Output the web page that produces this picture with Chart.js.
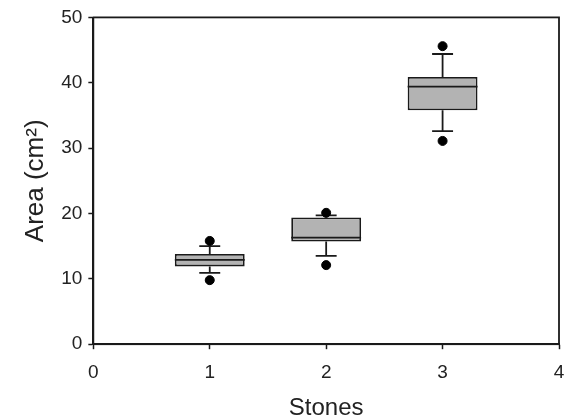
<!DOCTYPE html>
<html>
<head>
<meta charset="utf-8">
<script src="https://cdn.jsdelivr.net/npm/chart.js@4/dist/chart.umd.min.js"></script>
<style>
html, body { margin: 0; padding: 0; background: #fff; }
#wrap { width: 566px; height: 420px; }
</style>
</head>
<body>
<div id="wrap"><canvas id="myChart"></canvas></div>
<script>
// values
var stones = [1, 2, 3];
var q1 = [11.9, 15.7, 35.8];
var median = [12.9, 16.3, 39.4];
var q3 = [13.8, 19.4, 40.9];
var whiskerLow = [10.9, 13.5, 32.6];
var whiskerHigh = [15.0, 19.7, 44.4];
var outlierLow = [9.8, 12.1, 31.1];
var outlierHigh = [15.8, 20.1, 45.6];
var xTicks = [0, 1, 2, 3, 4];
var yTicks = [0, 10, 20, 30, 40, 50];

var boxHalf = 0.3, capHalf = 0.09;
var ink = '#1a1a1a';

var boxes = [], medLines = [], whiskers = [], caps = [], dots = [];
stones.forEach(function (s, i) {
    boxes.push({ x: s, y: [q1[i], q3[i]] });
    medLines.push({ x: s - boxHalf, y: median[i] }, { x: s + boxHalf, y: median[i] }, { x: s, y: null });
    whiskers.push({ x: s, y: q3[i] }, { x: s, y: whiskerHigh[i] }, { x: s, y: null });
    whiskers.push({ x: s, y: q1[i] }, { x: s, y: whiskerLow[i] }, { x: s, y: null });
    caps.push({ x: s - capHalf, y: whiskerHigh[i] }, { x: s + capHalf, y: whiskerHigh[i] }, { x: s, y: null });
    caps.push({ x: s - capHalf, y: whiskerLow[i] }, { x: s + capHalf, y: whiskerLow[i] }, { x: s, y: null });
    dots.push({ x: s, y: outlierLow[i] }, { x: s, y: outlierHigh[i] });
});

function segLine(data) {
    return {
        type: 'line', data: data, borderColor: ink, borderWidth: 1.8,
        pointRadius: 0, spanGaps: false, fill: false, order: 1
    };
}

var frame = {
    id: 'frame',
    afterDraw: function (chart) {
        var a = chart.chartArea, c = chart.ctx;
        c.save();
        c.strokeStyle = ink;
        c.lineWidth = 1.8;
        c.strokeRect(a.left, a.top, a.right - a.left, a.bottom - a.top);
        c.restore();
    }
};

var ctx = document.getElementById('myChart');
var myChart = new Chart(ctx, {
    type: 'bar',
    data: {
        datasets: [
            {
                type: 'bar', data: boxes, backgroundColor: '#b3b3b3', borderColor: ink,
                borderWidth: 1.8, borderSkipped: false, barPercentage: 0.6, categoryPercentage: 1, order: 2
            },
            Object.assign(segLine(medLines), { order: 0 }),
            segLine(whiskers),
            segLine(caps),
            {
                type: 'scatter', data: dots, backgroundColor: '#000', borderColor: '#000',
                pointRadius: 4.5, order: 0
            }
        ]
    },
    options: {
        responsive: true,
        maintainAspectRatio: false,
        animation: false,
        layout: { padding: { left: 16, right: 7, top: 8, bottom: 0 } },
        plugins: { legend: { display: false }, tooltip: { enabled: false } },
        scales: {
            x: {
                type: 'linear', min: 0, max: 4, offset: false,
                afterBuildTicks: function (axis) { axis.ticks = xTicks.map(function (v) { return { value: v }; }); },
                afterFit: function (axis) { axis.paddingRight = 0; axis.paddingLeft = 0; },
                grid: { drawOnChartArea: false, offset: false, tickLength: 5, color: ink, tickWidth: 1.5 },
                border: { color: ink, width: 1.8 },
                ticks: { color: '#222', font: { family: 'Liberation Sans, Arial', size: 19 }, padding: 12 },
                title: { display: true, text: 'Stones', color: '#222', font: { family: 'Liberation Sans, Arial', size: 24, lineHeight: 1 }, padding: { top: 0, bottom: 0 } }
            },
            y: {
                min: 0, max: 50,
                afterBuildTicks: function (axis) { axis.ticks = yTicks.map(function (v) { return { value: v }; }); },
                grid: { drawOnChartArea: false, tickLength: 5, color: ink, tickWidth: 1.5 },
                border: { color: ink, width: 1.8 },
                ticks: { color: '#222', font: { family: 'Liberation Sans, Arial', size: 19 }, padding: 6 },
                title: { display: true, text: 'Area (cm²)', color: '#222', font: { family: 'Liberation Sans, Arial', size: 26 }, padding: { bottom: 4 } }
            }
        }
    },
    plugins: [frame]
});

window.chart = myChart;
</script>
</body>
</html>
